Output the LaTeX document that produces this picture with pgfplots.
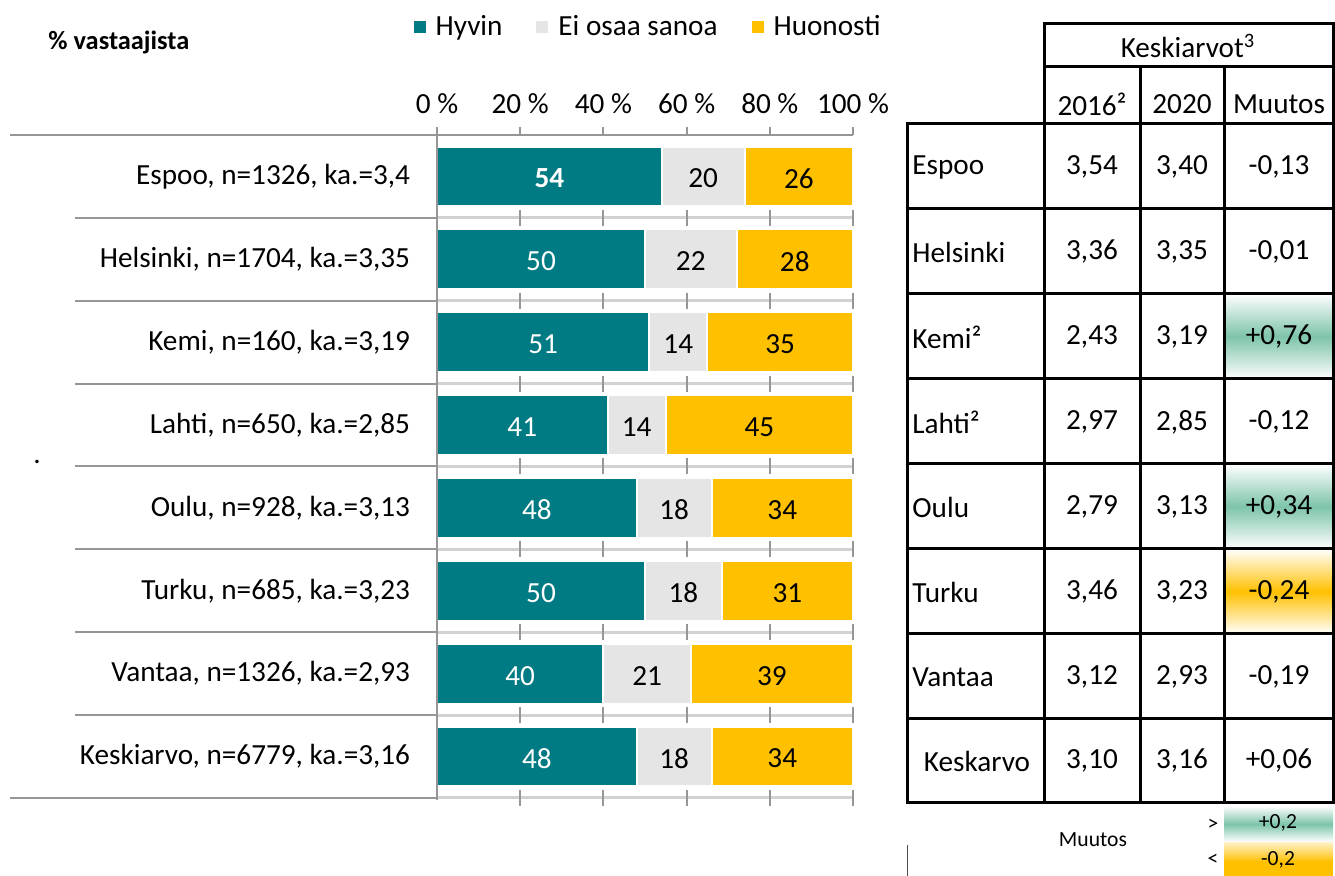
\documentclass[border=0pt]{standalone}
\usepackage{fontspec}
\setmainfont{Carlito}
\usepackage{pgfplots}
\usepackage{pgfplotstable}
\pgfplotsset{compat=1.18}
\definecolor{teal1}{RGB}{0,122,131}
\definecolor{lgray}{RGB}{229,229,229}
\definecolor{yel}{RGB}{255,192,0}
\definecolor{grn}{RGB}{125,196,170}
\definecolor{sep}{RGB}{150,150,150}
\newcommand\fs{\fontsize{14.6}{17}\selectfont}
\newcommand\fss{\fontsize{10.8}{13}\selectfont}
\pgfplotstableread{
y hyv hyvl eos eosl huo huol
7 54 54 20 20 26 26
6 50 50 22 22 28 28
5 51 51 14 14 35 35
4 41 41 14 14 45 45
3 48 48 18 18 34 34
2 50 50 18.5 18 31.5 31
1 40 40 21 21 39 39
0 48 48 18 18 34 34
}\datatable
\newcommand\trow[5]{%
  \node[anchor=west,inner sep=0] at (912,#1) {#2};
  \node at (1092,#1) {#3};
  \node at (1182,#1) {#4};
  \node at (1279,#1) {#5};}
\begin{document}
\begin{tikzpicture}[font=\fs]
\begin{axis}[
  at={(218.5pt,-399pt)}, anchor=south west,
  scale only axis, width=208pt, height=331.5pt,
  xbar stacked, bar width=0.72,
  xmin=0, xmax=100, ymin=-0.5, ymax=7.5,
  axis x line*=top, axis y line*=left,
  axis line style={sep, line width=1pt},
  xtick={0,20,...,100},
  xticklabel={\pgfmathprintnumber{\tick}~\%},
  /pgf/number format/assume math mode=true,
  xtick style={sep, line width=1pt},
  tick align=outside, major tick length=4pt,
  xticklabel style={font=\fs, yshift=3pt},
  ytick={0,...,7},
  yticklabels={{Keskiarvo, n=6779, ka.=3,16},{Vantaa, n=1326, ka.=2,93},{Turku, n=685, ka.=3,23},{Oulu, n=928, ka.=3,13},{Lahti, n=650, ka.=2,85},{Kemi, n=160, ka.=3,19},{Helsinki, n=1704, ka.=3,35},{Espoo, n=1326, ka.=3,4}},
  ytick style={draw=none},
  yticklabel style={font=\fs, xshift=-6pt},
  legend style={at={(0.51,1.163)}, anchor=center, draw=none, fill=none, font=\fs,
    legend columns=3,
    /tikz/every odd column/.append style={column sep=3pt},
    /tikz/every even column/.append style={column sep=15pt}},
  legend image code/.code={\path[#1,draw=none] (0pt,-3pt) rectangle (6pt,3pt);},
  point meta=explicit symbolic,
]
\addplot[fill=teal1, draw=white, line width=1pt,
  nodes near coords={\ifdim\pgfplotspointmeta pt=54pt\bfseries\fi\pgfplotspointmeta},
  every node near coord/.append style={anchor=center, text=white, font=\fs, yshift=-1pt}]
  table[x=hyv, y=y, meta=hyvl] {\datatable};
\addlegendentry{Hyvin}
\addplot[fill=lgray, draw=white, line width=1pt,
  nodes near coords={\pgfplotspointmeta},
  every node near coord/.append style={anchor=center, text=black, font=\fs, yshift=-1pt}]
  table[x=eos, y=y, meta=eosl] {\datatable};
\addlegendentry{Ei osaa sanoa}
\addplot[fill=yel, draw=white, line width=1pt,
  nodes near coords={\pgfplotspointmeta},
  every node near coord/.append style={anchor=center, text=black, font=\fs, yshift=-1pt}]
  table[x=huo, y=y, meta=huol] {\datatable};
\addlegendentry{Huonosti}
\end{axis}
\begin{scope}[x=0.5pt,y=-0.5pt]
% title
\node[anchor=west,inner sep=0,font=\bfseries\fontsize{13.2}{15}\selectfont] at (48,42) {\% vastaajista};
\node at (37,462) {.};
% left separators
\draw[sep,line width=1pt] (10,135) -- (437,135);
\draw[sep,line width=1pt] (10,798) -- (437,798);
\foreach \i in {1,...,7} {
  \draw[sep,line width=1pt] (75,{135+82.875*\i}) -- (437,{135+82.875*\i});
}
% bar area separators and ticks
\foreach \i in {1,...,8} {
  \draw[gray!35,line width=1.5pt] (437,{135+82.875*\i}) -- (853,{135+82.875*\i});
  \foreach \k in {1,...,5} {
    \draw[sep,line width=1pt] ({437+83.2*\k},{127+82.875*\i}) -- ({437+83.2*\k},{143+82.875*\i});
  }
}
\draw[sep,line width=1pt] (437,127) -- (437,800);
% shaded cells
\shade[top color=white,bottom color=white,middle color=grn] (1224,294) rectangle (1333,379);
\shade[top color=white,bottom color=white,middle color=grn] (1224,464) rectangle (1333,549);
\shade[top color=white,bottom color=white,middle color=yel] (1224,549) rectangle (1333,634);
% table lines
\draw[line width=1.5pt] (1044,24) rectangle (1333,124);
\draw[line width=1.5pt] (1044,67) -- (1333,67);
\draw[line width=1.5pt] (1140,67) -- (1140,124);
\draw[line width=1.5pt] (1224,67) -- (1224,124);
\draw[line width=1.5pt] (907,124) rectangle (1333,803);
\foreach \yy in {209,294,379,464,549,634,719} {\draw[line width=1.5pt] (907,\yy) -- (1333,\yy);}
\foreach \xx in {1044,1140,1224} {\draw[line width=1.5pt] (\xx,124) -- (\xx,803);}
% header text
\node at (1188,46) {Keskiarvot\textsuperscript{3}};
\node at (1092,104) {2016²};
\node at (1182,104) {2020};
\node at (1279,104) {Muutos};
% rows
\trow{167}{Espoo}{3,54}{3,40}{-0,13}
\trow{252}{Helsinki}{3,36}{3,35}{-0,01}
\trow{337}{Kemi²}{2,43}{3,19}{+0,76}
\trow{422}{Lahti²}{2,97}{2,85}{-0,12}
\trow{507}{Oulu}{2,79}{3,13}{+0,34}
\trow{592}{Turku}{3,46}{3,23}{-0,24}
\trow{677}{Vantaa}{3,12}{2,93}{-0,19}
\node at (977,761) {Keskarvo};
\node at (1092,761) {3,10};
\node at (1182,761) {3,16};
\node at (1279,761) {+0,06};
% bottom legend
\shade[top color=white,bottom color=white,middle color=grn] (1224,806) rectangle (1333,842);
\shade[top color=yel!25!white,bottom color=yel] (1224,843) rectangle (1333,862);
\fill[yel] (1224,861.5) rectangle (1333,876);
\node[font=\fss] at (1278,823) {+0,2};
\node[font=\fss] at (1278,860) {-0,2};
\node[font=\fss] at (1213,825) {>};
\node[font=\fss] at (1213,860) {<};
\node[font=\fss] at (1093,840) {Muutos};
\draw[black!70,line width=0.5pt] (907,845) -- (907,876);
\pgfresetboundingbox
\path[use as bounding box] (0,0) rectangle (1335,876);
\end{scope}
\end{tikzpicture}
\end{document}
